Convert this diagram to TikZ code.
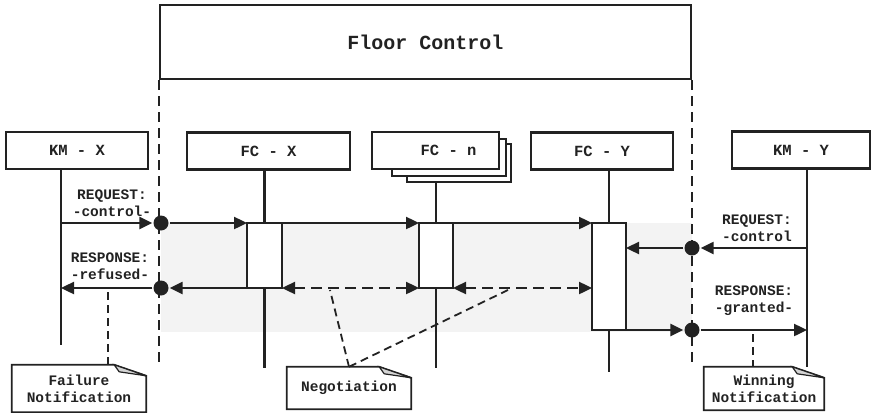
\documentclass[tikz,border=0pt]{standalone}
\usepackage{fontspec}
\setmonofont{Liberation Mono}
\usetikzlibrary{arrows.meta}
\definecolor{linegray}{HTML}{222222}
\definecolor{bandgray}{HTML}{F3F3F3}
\definecolor{foldgray}{HTML}{D4D4D4}
\tikzset{
  hdr/.style={draw, line width=2.4pt, fill=white, minimum height=37pt, inner sep=0pt,
    font=\ttfamily\bfseries\fontsize{15.5}{18}\selectfont},
  act/.style={draw, line width=2.4pt, fill=white, minimum width=35pt, inner sep=0pt, outer sep=0pt},
  dot/.style={circle, fill=linegray, minimum size=15pt, inner sep=0pt},
  lbl/.style={align=center, inner sep=0pt, font=\ttfamily\bfseries\fontsize{14.5}{17}\selectfont},
  note/.style={align=center, inner sep=0pt, font=\ttfamily\bfseries\fontsize{14.5}{17}\selectfont},
  boundary/.style={line width=2.4pt, dash pattern=on 10pt off 6pt},
  negdash/.style={dash pattern=on 11pt off 6pt},
  ptr/.style={line width=1.8pt, dash pattern=on 8pt off 5pt}
}
\begin{document}
\begin{tikzpicture}[x=1pt, y=-1pt, line width=2.4pt, color=linegray,
    >={Triangle[length=13pt,width=12pt]}]
  \useasboundingbox (0,0) rectangle (874,412);
  % shaded negotiation area
  \fill[bandgray] (161,223) rectangle (692,332);

  % floor control and its borders
  \node[hdr, minimum width=531pt, minimum height=74pt,
    font=\ttfamily\bfseries\fontsize{20}{22}\selectfont] (floor) at (425.5,42) {Floor Control};
  \coordinate (lbound) at (161,368);
  \coordinate (rbound) at (692,368);
  \draw[boundary] (floor.south west) -- (floor.south west |- lbound);
  \draw[boundary] (floor.south east) -- (floor.south east |- rbound);

  % participants
  \node[hdr, minimum width=142pt] (kmx) at (77,150.5) {KM - X};
  \node[hdr, minimum width=163pt] (fcx) at (268.5,151) {FC - X};
  \draw[fill=white] (407,144) rectangle (511,182);
  \draw[fill=white] (392,139) rectangle (506,176);
  \node[hdr, minimum width=127pt] (fcn) at (435.5,150.5) {\hspace*{26pt}FC - n};
  \node[hdr, minimum width=142pt] (fcy) at (602,151) {FC - Y};
  \node[hdr, minimum width=138pt] (kmy) at (801,150) {KM - Y};

  % lifelines
  \coordinate (kmxend) at (61,345);
  \coordinate (fcxend) at (264.5,368);
  \coordinate (fcnend) at (436,368);
  \coordinate (fcyend) at (609,372);
  \coordinate (kmyend) at (807,367);
  \draw (kmx.south -| kmxend) -- (kmxend);
  \draw (fcx.south -| fcxend) -- (fcxend);
  \draw ([yshift=-13pt]fcn.south -| fcnend) -- (fcnend);
  \draw (fcy.south -| fcyend) -- (fcyend);
  \draw (kmy.south -| kmyend) -- (kmyend);

  % activations
  \node[act, minimum height=65pt] (actx) at (264.5,255.5) {};
  \node[act, minimum width=34pt, minimum height=65pt] (actn) at (436,255.5) {};
  \node[act, minimum width=34pt, minimum height=107pt] (acty) at (609,276.5) {};

  % crossing points
  \node[dot] (reqxdot) at (161,223) {};
  \node[dot] (resxdot) at (161,288) {};
  \node[dot] (reqydot) at (692,248) {};
  \node[dot] (resydot) at (692,330) {};

  % messages
  \draw[->] (reqxdot -| kmxend) -- (reqxdot);
  \draw[->] (reqxdot) -- (reqxdot -| actx.west);
  \draw[->] (actx.north east) -- (actn.north west);
  \draw[->] (actn.north east) -- (actn.north east -| acty.west);
  \draw[->] (resxdot -| actx.west) -- (resxdot);
  \draw[->] (resxdot) -- (resxdot -| kmxend);
  \draw[<->, negdash] (actx.south east) -- (actn.south west);
  \draw[<->, negdash] (actn.south east) -- (actn.south east -| acty.west);
  \draw[->] (reqydot -| kmyend) -- (reqydot);
  \draw[->] (reqydot) -- (reqydot -| acty.east);
  \draw[->] (resydot -| acty.east) -- (resydot);
  \draw[->] (resydot) -- (resydot -| kmyend);

  \node[lbl] (reqxlbl) at (112,203) {REQUEST:\\-control-};
  \node[lbl] (resxlbl) at (110,266) {RESPONSE:\\-refused-};
  \node[lbl] (reqylbl) at (757,228) {REQUEST:\\-control};
  \node[lbl] (resylbl) at (754,301) {RESPONSE:\\-granted-};

  % notes
  \node[note, minimum width=132pt, minimum height=45pt] (failnote) at (79,388.5) {Failure\\Notification};
  \node[note, minimum width=122pt, minimum height=40pt] (negnote) at (349,388) {Negotiation};
  \node[note, minimum width=118pt, minimum height=41pt] (winnote) at (764,388.5) {Winning\\Notification};
  \foreach \n in {failnote, negnote, winnote} {
    \draw[line width=1.8pt] (\n.south west) -- (\n.north west) -- ([xshift=-32pt]\n.north east)
      -- ([yshift=-11pt]\n.north east) -- (\n.south east) -- cycle;
    \filldraw[fill=foldgray, line width=1.2pt] ([xshift=-32pt]\n.north east)
      -- ([xshift=-27pt, yshift=-7pt]\n.north east) -- ([yshift=-11pt]\n.north east) -- cycle;
  }

  \coordinate (failtip) at (108,292);
  \coordinate (negltip) at (330,290);
  \coordinate (negrtip) at (508,290);
  \coordinate (wintip) at (753,334);
  \draw[ptr] (failtip) -- (failtip |- failnote.north);
  \draw[ptr] (negnote.north) -- (negltip);
  \draw[ptr] (negnote.north) -- (negrtip);
  \draw[ptr] (wintip) -- (wintip |- winnote.north);
\end{tikzpicture}
\end{document}
